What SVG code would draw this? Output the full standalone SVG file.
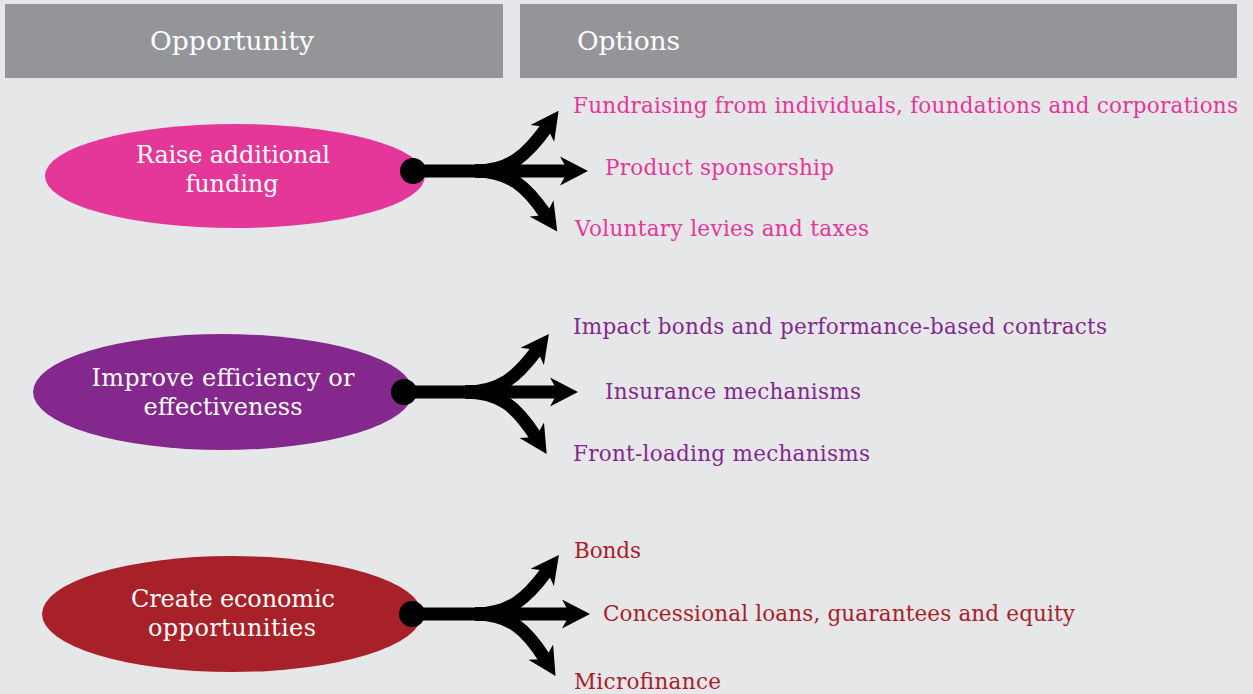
<svg xmlns="http://www.w3.org/2000/svg" width="1253" height="694" viewBox="0 0 1253 694">
<defs>
<style>
text{font-family:"DejaVu Serif","Liberation Serif",serif}
.hd{fill:#ffffff;font-size:26.5px}
.el{fill:#ffffff;font-size:24px;text-anchor:middle}
.op{font-size:21.5px}
.pink{fill:#e5379a}
.purple{fill:#84288e}
.red{fill:#a92128}
.conn path{fill:none;stroke:#000;stroke-width:13}
.ar{marker-end:url(#ah)}
</style>
<marker id="ah" markerUnits="userSpaceOnUse" viewBox="0 -15 30 30" refX="8" refY="0" markerWidth="30" markerHeight="30" orient="auto">
<path d="M0,-14.5 L28,0 L0,14.5 L8,0 Z" fill="#000"/>
</marker>
</defs>
<rect width="1253" height="694" fill="#e6e7e9"/>
<g id="hdr-opportunity">
<rect x="5" y="4" width="498" height="74" fill="#939598"/>
<text class="hd" x="232" y="50" text-anchor="middle" textLength="164">Opportunity</text>
</g>
<g id="hdr-options">
<rect x="520" y="4" width="717" height="74" fill="#939598"/>
<text class="hd" x="577" y="50" textLength="103">Options</text>
</g>

<g id="node-raise">
<ellipse cx="235" cy="176" rx="190" ry="52" fill="#e5379a"/>
<text class="el" x="233" y="163" textLength="194">Raise additional</text>
<text class="el" x="232" y="192" textLength="93">funding</text>
</g>
<g id="node-improve">
<ellipse cx="223" cy="392" rx="190" ry="58" fill="#84288e"/>
<text class="el" x="223" y="386" textLength="263">Improve efficiency or</text>
<text class="el" x="223" y="415" textLength="159">effectiveness</text>
</g>
<g id="node-create">
<ellipse cx="232" cy="614" rx="190" ry="58" fill="#a92128"/>
<text class="el" x="233" y="607" textLength="204">Create economic</text>
<text class="el" x="232" y="636" textLength="168">opportunities</text>
</g>

<g id="connectors" class="conn">
<circle cx="413" cy="171" r="13" fill="#000"/>
<path d="M413,171 H485"/>
<path class="ar" d="M475,171 C510,171 527,155 547,127"/>
<path class="ar" d="M475,171 H568"/>
<path class="ar" d="M475,171 C510,171 527,187 546,215"/>

<circle cx="404" cy="392" r="13" fill="#000"/>
<path d="M404,392 H475"/>
<path class="ar" d="M465,392 C500,392 517,377 537,350"/>
<path class="ar" d="M465,392 H558"/>
<path class="ar" d="M465,392 C500,392 517,407 536,437"/>

<circle cx="412" cy="614" r="13" fill="#000"/>
<path d="M412,614 H485"/>
<path class="ar" d="M475,614 C510,614 527,598 547,571"/>
<path class="ar" d="M475,614 H570"/>
<path class="ar" d="M475,614 C510,614 527,630 545,659"/>
</g>

<g id="opt-fundraising"><text class="op pink" x="573" y="113" textLength="665">Fundraising from individuals, foundations and corporations</text></g>
<g id="opt-sponsorship"><text class="op pink" x="605" y="175" textLength="229">Product sponsorship</text></g>
<g id="opt-levies"><text class="op pink" x="575" y="236" textLength="294">Voluntary levies and taxes</text></g>

<g id="opt-impact"><text class="op purple" x="573" y="334" textLength="534">Impact bonds and performance-based contracts</text></g>
<g id="opt-insurance"><text class="op purple" x="605" y="399" textLength="256">Insurance mechanisms</text></g>
<g id="opt-frontloading"><text class="op purple" x="573" y="461" textLength="297">Front-loading mechanisms</text></g>

<g id="opt-bonds"><text class="op red" x="574" y="558" textLength="67">Bonds</text></g>
<g id="opt-concessional"><text class="op red" x="603" y="621" textLength="472">Concessional loans, guarantees and equity</text></g>
<g id="opt-microfinance"><text class="op red" x="574" y="689" textLength="147">Microfinance</text></g>
</svg>
